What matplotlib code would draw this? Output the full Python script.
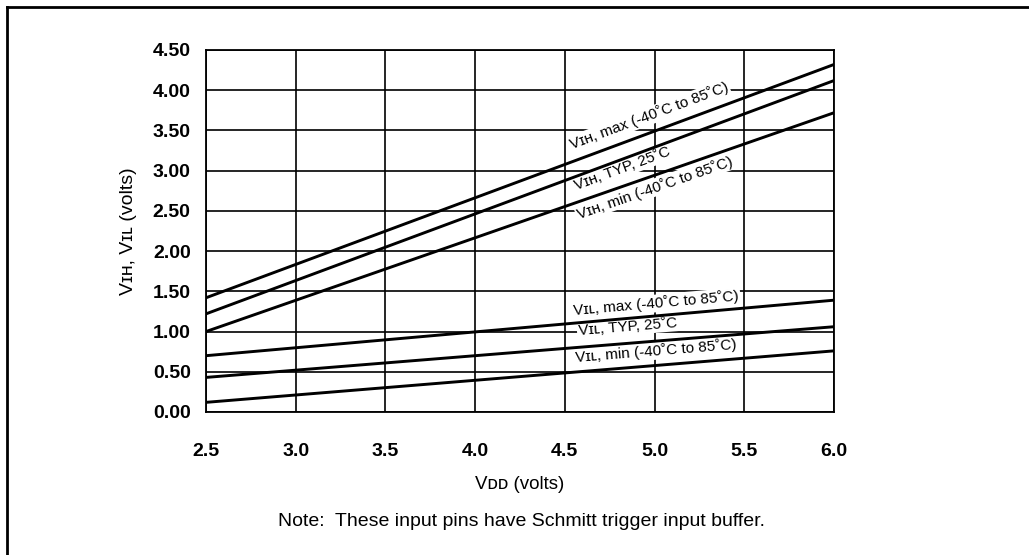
import math
import matplotlib
matplotlib.use('Agg')
import matplotlib.pyplot as plt
from matplotlib.lines import Line2D

plt.rcParams.update({
    'font.family': ['Liberation Sans', 'DejaVu Sans'],
    'font.size': 12,
    'axes.linewidth': 1.3,
    'axes.edgecolor': 'black',
    'text.color': 'black',
})

# -- Data --
vdd = [2.5, 6.0]
vih_max = [1.42, 4.32]
vih_typ = [1.22, 4.12]
vih_min = [1.00, 3.72]
vil_max = [0.70, 1.39]
vil_typ = [0.43, 1.06]
vil_min = [0.12, 0.76]

curves = [vih_max, vih_typ, vih_min, vil_max, vil_typ, vil_min]
curve_labels = [
    'V\u026a\u029c, max (-40\u02daC to 85\u02daC)',
    'V\u026a\u029c, TYP, 25\u02daC',
    'V\u026a\u029c, min (-40\u02daC to 85\u02daC)',
    'V\u026a\u029f, max (-40\u02daC to 85\u02daC)',
    'V\u026a\u029f, TYP, 25\u02daC',
    'V\u026a\u029f, min (-40\u02daC to 85\u02daC)',
]
xticks = [2.5, 3.0, 3.5, 4.0, 4.5, 5.0, 5.5, 6.0]
yticks = [0.0, 0.5, 1.0, 1.5, 2.0, 2.5, 3.0, 3.5, 4.0, 4.5]

# where each label sits (data coords of text centre)
label_pos = [(4.97, 3.68), (4.82, 3.02), (5.00, 2.79),
             (5.01, 1.35), (4.85, 1.06), (5.01, 0.76)]

fig = plt.figure(figsize=(10.29, 5.55), dpi=100)
ax = fig.add_axes([206 / 1029, 1 - 412 / 555, 628 / 1029, 362 / 555])

ax.set_xlim(2.5, 6.0)
ax.set_ylim(0, 4.5)
ax.set_xticks(xticks)
ax.set_xticklabels(['{:.1f}'.format(v) for v in xticks], fontweight='bold', fontsize=14)
ax.set_yticks(yticks)
ax.set_yticklabels(['{:.2f}'.format(v) for v in yticks], fontweight='bold', fontsize=14)
ax.tick_params(axis='x', length=0, pad=22)
ax.tick_params(axis='y', length=0, pad=11)
ax.grid(True, color='black', linewidth=1.2, zorder=0)
ax.set_axisbelow(True)

for ys in curves:
    ax.plot(vdd, ys, color='black', linewidth=2.1, zorder=4, solid_capstyle='butt')

for ys, txt, (lx, ly) in zip(curves, curve_labels, label_pos):
    p = ax.transData.transform([(vdd[0], ys[0]), (vdd[1], ys[1])])
    ang = math.degrees(math.atan2(p[1][1] - p[0][1], p[1][0] - p[0][0]))
    ax.text(lx, ly, txt, fontsize=11, rotation=ang, rotation_mode='anchor',
            ha='center', va='center', zorder=3,
            bbox=dict(facecolor='white', edgecolor='none', pad=1.0))

ax.set_xlabel('V\u1d05\u1d05 (volts)', fontsize=13.5, labelpad=12)
ax.set_ylabel('V\u026a\u029c, V\u026a\u029f (volts)', fontsize=14, labelpad=11)

fig.text(521 / 1029, 1 - 521 / 555, 'Note:  These input pins have Schmitt trigger input buffer.',
         fontsize=14, ha='center', va='center')

# outer frame (only left and top edges visible)
fig.add_artist(Line2D([7 / 1029, 7 / 1029], [0, 1 - 7 / 555], color='black', linewidth=2.0))
fig.add_artist(Line2D([7 / 1029, 1], [1 - 7 / 555, 1 - 7 / 555], color='black', linewidth=2.0))

fig.savefig('out.png', dpi=100)
